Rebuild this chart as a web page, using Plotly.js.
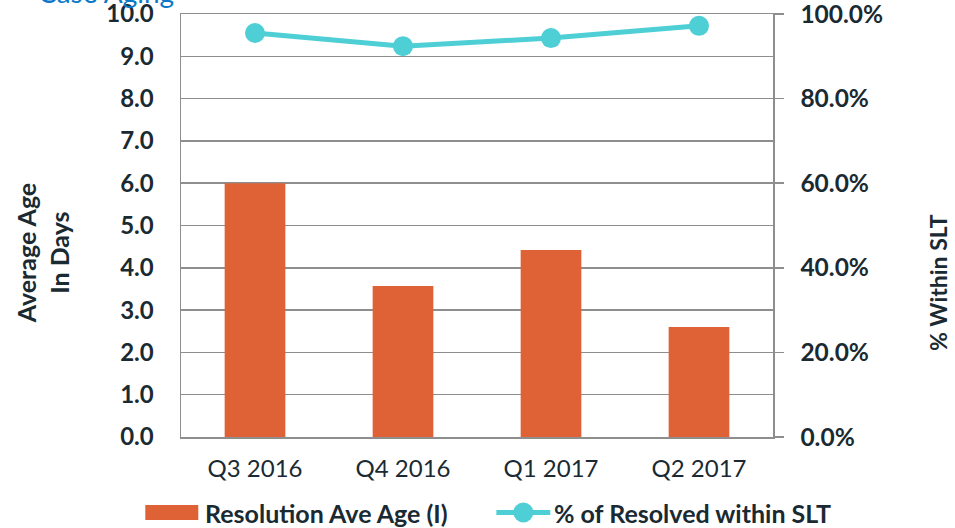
<!DOCTYPE html>
<html>
<head>
<meta charset="utf-8">
<script src="https://cdn.plot.ly/plotly-3.0.1.min.js"></script>
<style>
html,body{margin:0;padding:0;background:#fff;}
#chart{width:955px;height:528px;}
</style>
</head>
<body>
<div id="chart"></div>
<script>
const categories = ["Q3 2016", "Q4 2016", "Q1 2017", "Q2 2017"];
const aveAgeDays = [6.0, 3.57, 4.42, 2.60];
const pctWithinSLT = [0.955, 0.924, 0.943, 0.972];
const barName = "Resolution Ave Age (I)";
const lineName = "% of Resolved within SLT";
const chartTitle = "Case Aging";
const leftAxisTitle = "Average Age<br>In Days";
const rightAxisTitle = "% Within SLT";

const textColor = "#1a2a32";
const gridColor = "#8e8e8e";
const barColor = "#de6236";
const lineColor = "#4ecfd5";
const font = "Lato, 'Open Sans', sans-serif";

const traces = [
  {
    type: "bar", x: categories, y: aveAgeDays, name: barName,
    marker: {color: barColor}, width: 0.41, yaxis: "y", showlegend: false,
    hoverinfo: "skip"
  },
  {
    type: "scatter", mode: "lines+markers", x: categories, y: pctWithinSLT, name: lineName,
    line: {color: lineColor, width: 5}, marker: {color: lineColor, size: 20},
    yaxis: "y2", showlegend: false, cliponaxis: false, hoverinfo: "skip"
  }
];

const lgY = -0.1785;

const layout = {
  width: 955, height: 528,
  margin: {l: 181, r: 182, t: 14, b: 91},
  paper_bgcolor: "#fff", plot_bgcolor: "#fff",
  font: {family: font, color: textColor},
  showlegend: false,
  xaxis: {
    type: "category",
    showline: true, mirror: true, linecolor: gridColor, linewidth: 1.5,
    ticks: "", showgrid: false, zeroline: false,
    tickfont: {family: font, size: 24, color: textColor},
    ticklabelstandoff: 10
  },
  yaxis: {
    range: [0, 10], tick0: 0, dtick: 1, tickformat: ".1f",
    showgrid: true, gridcolor: gridColor, gridwidth: 1.5,
    showline: true, linecolor: gridColor, linewidth: 1.5,
    zeroline: false, ticks: "", ticklabeloverflow: "allow",
    tickfont: {family: font, size: 24, color: textColor, weight: "bold"},
    ticklabelstandoff: 21
  },
  yaxis2: {
    overlaying: "y", side: "right",
    range: [0, 1], tick0: 0, dtick: 0.2, tickformat: ".1%",
    showgrid: false, zeroline: false, ticklabeloverflow: "allow",
    showline: true, linecolor: gridColor, linewidth: 1.5,
    ticks: "outside", ticklen: 9, tickwidth: 1.5, tickcolor: gridColor,
    tickfont: {family: font, size: 24.5, color: textColor, weight: "bold"},
    ticklabelstandoff: 12
  },
  annotations: [
    {text: chartTitle, xref: "paper", yref: "paper", x: -0.245, y: 1.003, yshift: 2,
     xanchor: "left", yanchor: "bottom", showarrow: false,
     font: {family: font, size: 28, color: "#0a78c8"}},
    {text: leftAxisTitle, xref: "paper", yref: "paper", x: -0.2325, y: 0.435,
     xanchor: "center", yanchor: "middle", showarrow: false, textangle: -90,
     font: {family: font, size: 25, color: textColor, weight: "bold"}},
    {text: rightAxisTitle, xref: "paper", yref: "paper", x: 1.2786, y: 0.3664,
     xanchor: "center", yanchor: "middle", showarrow: false, textangle: -90,
     font: {family: font, size: 23, color: textColor, weight: "bold"}},
    {text: barName, xref: "paper", yref: "paper", x: 0.0376, y: lgY,
     xanchor: "left", yanchor: "middle", showarrow: false,
     font: {family: font, size: 25, color: textColor, weight: "bold"}},
    {text: lineName, xref: "paper", yref: "paper", x: 0.6268, y: lgY,
     xanchor: "left", yanchor: "middle", showarrow: false,
     font: {family: font, size: 25, color: textColor, weight: "bold"}}
  ],
  shapes: [
    {type: "rect", xref: "paper", yref: "paper", x0: -0.0603, x1: 0.0292, y0: -0.1962, y1: -0.1608,
     fillcolor: barColor, line: {width: 0}},
    {type: "line", xref: "paper", yref: "paper", x0: 0.5327, x1: 0.6238, y0: lgY, y1: lgY,
     line: {color: lineColor, width: 5}},
    {type: "circle", xref: "paper", yref: "paper", xsizemode: "pixel", ysizemode: "pixel",
     xanchor: 0.5783, yanchor: lgY, x0: -10, x1: 10, y0: -10, y1: 10,
     fillcolor: lineColor, line: {width: 0}}
  ]
};

Plotly.newPlot("chart", traces, layout, {displayModeBar: false, staticPlot: true});
</script>
</body>
</html>
